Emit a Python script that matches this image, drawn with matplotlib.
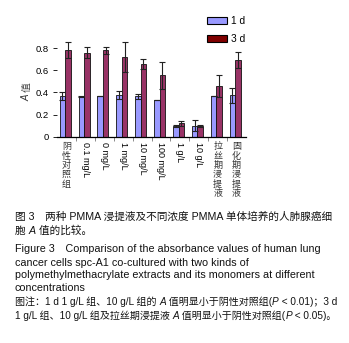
import numpy as np
import matplotlib
matplotlib.use("Agg")
import matplotlib.pyplot as plt
from matplotlib.patches import Patch
from matplotlib.ticker import FuncFormatter, FixedLocator

plt.rcParams['font.family'] = ['Liberation Sans', 'Noto Sans CJK SC']

# data
groups = ['阴性对照组', '0.1 mg/L', '0 mg/L', '1 mg/L', '10 mg/L', '100 mg/L',
          '1 g/L', '10 g/L', '拉丝期浸提液', '固化期浸提液']
day1 = [0.365, 0.36, 0.365, 0.375, 0.365, 0.33, 0.10, 0.10, 0.365, 0.375]
day1_err = [0.035, 0.005, 0.0, 0.035, 0.02, 0.0, 0.01, 0.05, 0.0, 0.07]
day3 = [0.785, 0.76, 0.78, 0.72, 0.655, 0.555, 0.12, 0.094, 0.46, 0.695]
day3_err = [0.075, 0.05, 0.03, 0.135, 0.045, 0.125, 0.025, 0.01, 0.10, 0.07]
series_names = ['1 d', '3 d']

W, H = 349, 343
fig = plt.figure(figsize=(W / 100, H / 100), dpi=100)
ax = fig.add_axes([57 / W, (H - 136.7) / H, (246 - 57) / W, 99.5 / H])

x = np.arange(len(groups))
bw = 0.29
ekw = dict(ecolor='#222222', elinewidth=0.8, capsize=2, capthick=0.8)
ax.bar(x - 0.215, day1, bw, yerr=day1_err, color='#9999FF', edgecolor='#111111',
       linewidth=0.6, error_kw=ekw, zorder=2)
ax.bar(x + 0.075, day3, bw, yerr=day3_err, color='#993366', edgecolor='#111111',
       linewidth=0.6, error_kw=ekw, zorder=2)

ax.set_xlim(-0.5, len(groups) - 0.5)
ax.set_ylim(0, 0.9)
for s in ['top', 'right', 'left']:
    ax.spines[s].set_visible(False)
ax.spines['bottom'].set_linewidth(0.9)

ax.set_yticks([0, 0.2, 0.4, 0.6, 0.8])
ax.yaxis.set_major_formatter(FuncFormatter(lambda v, p: '0' if v == 0 else f'{v:.1f}'))
ax.tick_params(axis='y', length=3, width=0.6, labelsize=6.8, pad=3)

ax.set_xticks(x)
labels = []
for g in groups:
    if g.isascii():
        labels.append(g)
    else:
        labels.append('\n'.join(g))
ax.set_xticklabels(labels)
ax.tick_params(axis='x', length=0, pad=4, labelsize=6.5)
for t, g in zip(ax.get_xticklabels(), groups):
    if g.isascii():
        t.set_rotation(-90)
        t.set_va('top')
    else:
        t.set_linespacing(1.05)
        t.set_color('#333333')
        t.set_va('top')
ax.xaxis.set_minor_locator(FixedLocator(x[:-1] + 0.5))
ax.tick_params(axis='x', which='minor', length=3, width=0.6, color='#777777')

ax.text(-0.16, 0.4, '值', transform=ax.get_yaxis_transform(), rotation=90,
        fontsize=7, ha='center', va='bottom', color='#444444')
ax.text(-0.16, 0.4, 'A ', transform=ax.get_yaxis_transform(), rotation=90,
        fontsize=7, ha='center', va='top', style='italic', color='#333333')

handles = [Patch(facecolor='#9999FF', edgecolor='black', linewidth=0.8),
           Patch(facecolor='#800000', edgecolor='black', linewidth=0.8)]
fig.legend(handles, series_names, loc='upper left', bbox_to_anchor=(200 / W, (H - 9) / H),
           frameon=False, fontsize=7.3, handlelength=2.0, handleheight=0.6,
           handletextpad=0.35, labelspacing=0.8, borderpad=0.2)

# caption written piece by piece so A and P can be italic
renderer = fig.canvas.get_renderer()


def rich_line(x0, y0, parts, size):
    xp = x0
    for s, it in parts:
        t = fig.text(xp / W, 1 - y0 / H, s, fontsize=size, va='center', ha='left',
                     style='italic' if it else 'normal', color='#111111')
        xp += t.get_window_extent(renderer).width


cn = 7.65
en = 7.75
rich_line(15, 216.7, [('图 3　两种 PMMA 浸提液及不同浓度 PMMA 单体培养的人肺腺癌细', False)], cn)
rich_line(15, 231, [('胞 ', False), ('A', True), (' 值的比较。', False)], cn)
rich_line(15, 249, [('Figure 3　Comparison of the absorbance values of human lung', False)], en)
rich_line(15, 262.5, [('cancer cells spc-A1 co-cultured with two kinds of', False)], en)
rich_line(15, 275.5, [('polymethylmethacrylate extracts and its monomers at different', False)], en)
rich_line(15, 288, [('concentrations', False)], en)
rich_line(15, 302, [('图注：1 d 1 g/L 组、10 g/L 组的 ', False), ('A', True),
                    (' 值明显小于阴性对照组(', False), ('P', True), (' < 0.01)；3 d', False)], 7.2)
rich_line(15, 316, [('1 g/L 组、10 g/L 组及拉丝期浸提液 ', False), ('A', True),
                    (' 值明显小于阴性对照组(', False), ('P', True), (' < 0.05)。', False)], 7.2)

fig.savefig('out.png', dpi=100)
